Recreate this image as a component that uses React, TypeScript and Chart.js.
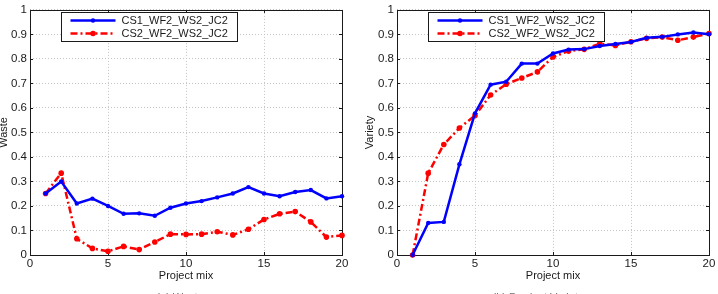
import React, { useEffect, useRef } from "react";
import { Chart, registerables } from "chart.js";

Chart.register(...registerables);

// Project mix index (x axis)
const projectMix = [1, 2, 3, 4, 5, 6, 7, 8, 9, 10, 11, 12, 13, 14, 15, 16, 17, 18, 19, 20];

// Waste per project mix
const wasteCS1 = [0.251, 0.3, 0.21, 0.23, 0.2, 0.168, 0.17, 0.16, 0.193, 0.21, 0.22, 0.235, 0.251, 0.277, 0.251, 0.24, 0.257, 0.265, 0.231, 0.24];
const wasteCS2 = [0.251, 0.334, 0.066, 0.027, 0.015, 0.035, 0.022, 0.053, 0.085, 0.084, 0.085, 0.095, 0.082, 0.105, 0.145, 0.168, 0.177, 0.135, 0.073, 0.08];

// Variety per project mix
const varietyCS1 = [0, 0.131, 0.135, 0.37, 0.578, 0.695, 0.707, 0.781, 0.781, 0.822, 0.838, 0.84, 0.853, 0.861, 0.869, 0.886, 0.89, 0.9, 0.908, 0.901];
const varietyCS2 = [0, 0.334, 0.451, 0.518, 0.569, 0.653, 0.697, 0.722, 0.747, 0.808, 0.832, 0.839, 0.862, 0.855, 0.87, 0.884, 0.889, 0.876, 0.889, 0.904];

const seriesNames = ["CS1_WF2_WS2_JC2", "CS2_WF2_WS2_JC2"];
const xTicks = [0, 5, 10, 15, 20];
const yTicks = [0, 0.1, 0.2, 0.3, 0.4, 0.5, 0.6, 0.7, 0.8, 0.9, 1];
const xTitle = "Project mix";

const FONT = "'Liberation Sans', Arial, Helvetica, sans-serif";
const BLUE = "#0000ff";
const RED = "#ff0000";
const INK = "#1a1a1a";
const GRID = "#c4c4c4";
const RED_DASH = [7, 3, 2, 3];

const fmt = (v: number) => String(Number(v.toFixed(1)));

// Box around the plot area with inward tick marks on all four sides
const framePlugin = {
  id: "frame",
  beforeDatasetsDraw(chart: any) {
    const { ctx, chartArea: a, scales } = chart;
    ctx.save();
    ctx.strokeStyle = INK;
    ctx.lineWidth = 1;
    ctx.setLineDash([]);
    ctx.strokeRect(Math.round(a.left) + 0.5, Math.round(a.top) + 0.5, Math.round(a.right - a.left), Math.round(a.bottom - a.top));
    const len = 3;
    ctx.beginPath();
    for (const v of xTicks) {
      const px = Math.round(scales.x.getPixelForValue(v)) + 0.5;
      ctx.moveTo(px, a.bottom);
      ctx.lineTo(px, a.bottom - len);
      ctx.moveTo(px, a.top);
      ctx.lineTo(px, a.top + len);
    }
    for (const v of yTicks) {
      const py = Math.round(scales.y.getPixelForValue(v)) + 0.5;
      ctx.moveTo(a.left, py);
      ctx.lineTo(a.left + len, py);
      ctx.moveTo(a.right, py);
      ctx.lineTo(a.right - len, py);
    }
    ctx.stroke();
    ctx.restore();
  },
};

// Boxed legend in the upper-left of the plot area
const boxLegendPlugin = {
  id: "boxLegend",
  afterDatasetsDraw(chart: any) {
    const { ctx, chartArea: a } = chart;
    const bx = Math.round(a.left + 31) + 0.5;
    const by = 12.5;
    const bw = 176;
    const bh = 29;
    ctx.save();
    ctx.fillStyle = "#ffffff";
    ctx.fillRect(bx, by, bw, bh);
    ctx.strokeStyle = INK;
    ctx.lineWidth = 1;
    ctx.setLineDash([]);
    ctx.strokeRect(bx, by, bw, bh);
    ctx.font = `11px ${FONT}`;
    ctx.textBaseline = "middle";
    chart.data.datasets.forEach((ds: any, i: number) => {
      const y = by + 8 + i * 13;
      const x0 = bx + 9;
      const x1 = bx + 54;
      ctx.strokeStyle = ds.borderColor;
      ctx.lineWidth = ds.borderWidth;
      ctx.setLineDash(ds.borderDash || []);
      ctx.beginPath();
      ctx.moveTo(x0, y);
      ctx.lineTo(x1, y);
      ctx.stroke();
      ctx.setLineDash([]);
      ctx.fillStyle = ds.borderColor;
      ctx.beginPath();
      ctx.arc((x0 + x1) / 2, y, ds.pointRadius, 0, Math.PI * 2);
      ctx.fill();
      ctx.fillStyle = INK;
      ctx.fillText(ds.label, bx + 60, y + 0.5);
    });
    ctx.restore();
  },
};

type PanelProps = {
  left: number;
  width: number;
  padLeft: number;
  padRight: number;
  axisW: number;
  yTitle: string;
  s1: number[];
  s2: number[];
};

function Panel({ left, width, padLeft, padRight, axisW, yTitle, s1, s2 }: PanelProps) {
  const ref = useRef<HTMLCanvasElement>(null);

  useEffect(() => {
    const tickFont = { family: FONT, size: 11.5 };
    const titleFont = { family: FONT, size: 11 };
    const chart = new Chart(ref.current as HTMLCanvasElement, {
      type: "line",
      data: {
        datasets: [
          {
            label: seriesNames[0],
            data: projectMix.map((x, i) => ({ x, y: s1[i] })),
            borderColor: BLUE,
            backgroundColor: BLUE,
            borderWidth: 2.5,
            pointRadius: 2.2,
            pointBorderWidth: 0,
            pointHoverRadius: 0,
            tension: 0,
            clip: false as any,
          },
          {
            label: seriesNames[1],
            data: projectMix.map((x, i) => ({ x, y: s2[i] })),
            borderColor: RED,
            backgroundColor: RED,
            borderWidth: 2.5,
            borderDash: RED_DASH,
            pointRadius: 2.8,
            pointBorderWidth: 0,
            pointHoverRadius: 0,
            tension: 0,
            clip: false as any,
          },
        ],
      },
      options: {
        responsive: false,
        animation: false,
        events: [],
        layout: { padding: { left: padLeft, right: padRight, top: 9, bottom: 0 } },
        plugins: { legend: { display: false }, tooltip: { enabled: false } },
        scales: {
          x: {
            type: "linear",
            min: 0,
            max: 20,
            afterBuildTicks: (s: any) => {
              s.ticks = xTicks.map((v) => ({ value: v }));
            },
            afterFit: (s: any) => {
              s.height = 39;
            },
            grid: { color: GRID, lineWidth: 1, drawTicks: false },
            border: { display: false, dash: [1, 2] },
            ticks: { color: INK, font: tickFont, padding: 2, maxRotation: 0, callback: (v: any) => String(v) },
            title: { display: true, text: xTitle, color: INK, font: titleFont, padding: { top: 0, bottom: 11.4 } },
          },
          y: {
            type: "linear",
            min: 0,
            max: 1,
            afterBuildTicks: (s: any) => {
              s.ticks = yTicks.map((v) => ({ value: v }));
            },
            afterFit: (s: any) => {
              s.width = axisW;
            },
            grid: { color: GRID, lineWidth: 1, drawTicks: false },
            border: { display: false, dash: [1, 2] },
            ticks: { color: INK, font: tickFont, padding: 3, callback: (v: any) => fmt(Number(v)) },
            title: { display: true, text: yTitle, color: INK, font: titleFont, padding: { top: 0, bottom: 0 } },
          },
        },
      },
      plugins: [framePlugin, boxLegendPlugin],
    });
    return () => chart.destroy();
  }, []);

  return (
    <canvas
      ref={ref}
      width={width}
      height={294}
      style={{ position: "absolute", left, top: 0, width, height: 294 }}
    />
  );
}

const captionStyle: React.CSSProperties = {
  position: "absolute",
  top: 290.5,
  width: 200,
  textAlign: "center",
  fontFamily: FONT,
  fontSize: 11,
  lineHeight: "12px",
  color: "#777",
  whiteSpace: "nowrap",
};

export default function App() {
  return (
    <div
      style={{
        position: "fixed",
        left: 0,
        top: 0,
        width: 718,
        height: 294,
        overflow: "hidden",
        background: "#ffffff",
      }}
    >
      <Panel left={-3} width={362} padLeft={0} padRight={17} axisW={33} yTitle="Waste" s1={wasteCS1} s2={wasteCS2} />
      <Panel left={358} width={360} padLeft={5} padRight={9} axisW={34} yTitle="Variety" s1={varietyCS1} s2={varietyCS2} />
      <div style={{ ...captionStyle, left: 80 }}>(a) Waste</div>
      <div style={{ ...captionStyle, left: 438 }}>(b) Product Variety</div>
    </div>
  );
}
